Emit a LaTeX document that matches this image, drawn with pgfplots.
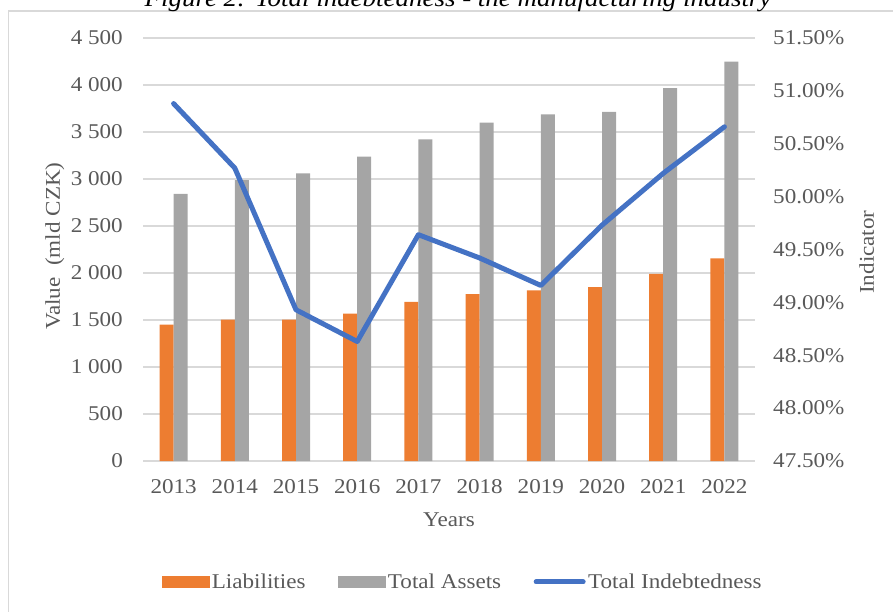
\documentclass[border=0pt]{standalone}
\usepackage{fontspec}
\setmainfont{Liberation Serif}[FakeStretch=1.1]
\usepackage{pgfplots}
\pgfplotsset{compat=1.18}
\definecolor{cOr}{HTML}{ED7D31}
\definecolor{cGr}{HTML}{A5A5A5}
\definecolor{cBl}{HTML}{4472C4}
\definecolor{cTx}{HTML}{595959}
\definecolor{cGd}{HTML}{D9D9D9}
\begin{document}
\begin{tikzpicture}[x=1pt,y=1pt]
\useasboundingbox (0,0) rectangle (893,611);
\draw[cGd, line width=1.5pt] (8.5,-10) rectangle (910,600);
\node[anchor=base, inner sep=0pt, font=\fontsize{24.5}{28}\selectfont\itshape, text=black] at (458,604.5) {Figure 2: Total indebtedness - the manufacturing industry};
\begin{axis}[
  at={(143pt,150pt)}, anchor=south west, scale only axis,
  width=612pt, height=423pt,
  xmin=-0.5, xmax=9.5, ymin=0, ymax=4500,
  axis line style={draw=none},
  ymajorgrids, major grid style={cGd, line width=1.5pt},
  major tick length=0pt,
  xtick={0,...,9},
  xticklabels={2013,2014,2015,2016,2017,2018,2019,2020,2021,2022},
  ytick={0,500,1000,1500,2000,2500,3000,3500,4000,4500},
  yticklabels={0,500,1 000,1 500,2 000,2 500,3 000,3 500,4 000,4 500},
  tick label style={text=cTx, font=\fontsize{21}{25}\selectfont},
  yticklabel style={anchor=east, inner sep=0pt, xshift=-20pt},
  xticklabel style={anchor=center, inner sep=0pt, yshift=-26pt},
  every axis y label/.style={at={(axis description cs:-0.144,0.508)}, rotate=90, anchor=center, text=cTx, font=\fontsize{21}{25}\selectfont},
  every axis x label/.style={at={(axis description cs:0.5,-0.139)}, anchor=center, text=cTx, font=\fontsize{21}{25}\selectfont},
  ylabel={Value~~(mld CZK)},
  xlabel={Years},
  ybar, bar width=14pt,
]
\addplot[draw=none, fill=cOr, bar shift=-7pt] coordinates {
(0,1452) (1,1505) (2,1505) (3,1569) (4,1693) (5,1775) (6,1814) (7,1849) (8,1991) (9,2155)};
\addplot[draw=none, fill=cGr, bar shift=7pt] coordinates {
(0,2843) (1,2989) (2,3060) (3,3237) (4,3422) (5,3599) (6,3688) (7,3713) (8,3968) (9,4248)};
\end{axis}
\begin{axis}[
  at={(143pt,150pt)}, anchor=south west, scale only axis,
  width=612pt, height=423pt,
  xmin=-0.5, xmax=9.5, ymin=47.5, ymax=51.5,
  axis line style={draw=none},
  axis y line*=right, axis x line=none,
  major tick length=0pt,
  ytick={47.5,48,48.5,49,49.5,50,50.5,51,51.5},
  yticklabels={47.50\%,48.00\%,48.50\%,49.00\%,49.50\%,50.00\%,50.50\%,51.00\%,51.50\%},
  tick label style={text=cTx, font=\fontsize{21}{25}\selectfont},
  yticklabel style={anchor=west, inner sep=0pt, xshift=18pt},
  every axis y label/.style={at={(axis description cs:1.1825,0.494)}, rotate=90, anchor=center, text=cTx, font=\fontsize{21}{25}\selectfont},
  ylabel={Indicator},
  clip=false,
  legend columns=3,
  legend style={at={(axis description cs:0.523,-0.286)}, anchor=center, draw=none, fill=none,
    font=\fontsize{21}{25}\selectfont, text=cTx,
    nodes={inner sep=2.5pt},
    column sep=0pt,
    /tikz/every even column/.append style={column sep=30pt}},
]
\addlegendimage{legend image code/.code={\fill[cOr] (0pt,-5.5pt) rectangle (47pt,5.5pt);}}
\addlegendentry{Liabilities}
\addlegendimage{legend image code/.code={\fill[cGr] (0pt,-5.5pt) rectangle (47pt,5.5pt);}}
\addlegendentry{Total Assets}
\addplot[cBl, line width=5pt, line cap=round, line join=round, mark=none,
  legend image code/.code={\draw[cBl, line width=5pt, line cap=round] (2.5pt,0pt) -- (49.5pt,0pt);}] coordinates {
(0,50.88) (1,50.27) (2,48.93) (3,48.63) (4,49.64) (5,49.42) (6,49.16) (7,49.73) (8,50.22) (9,50.66)};
\addlegendentry{Total Indebtedness}
\end{axis}
\end{tikzpicture}
\end{document}
